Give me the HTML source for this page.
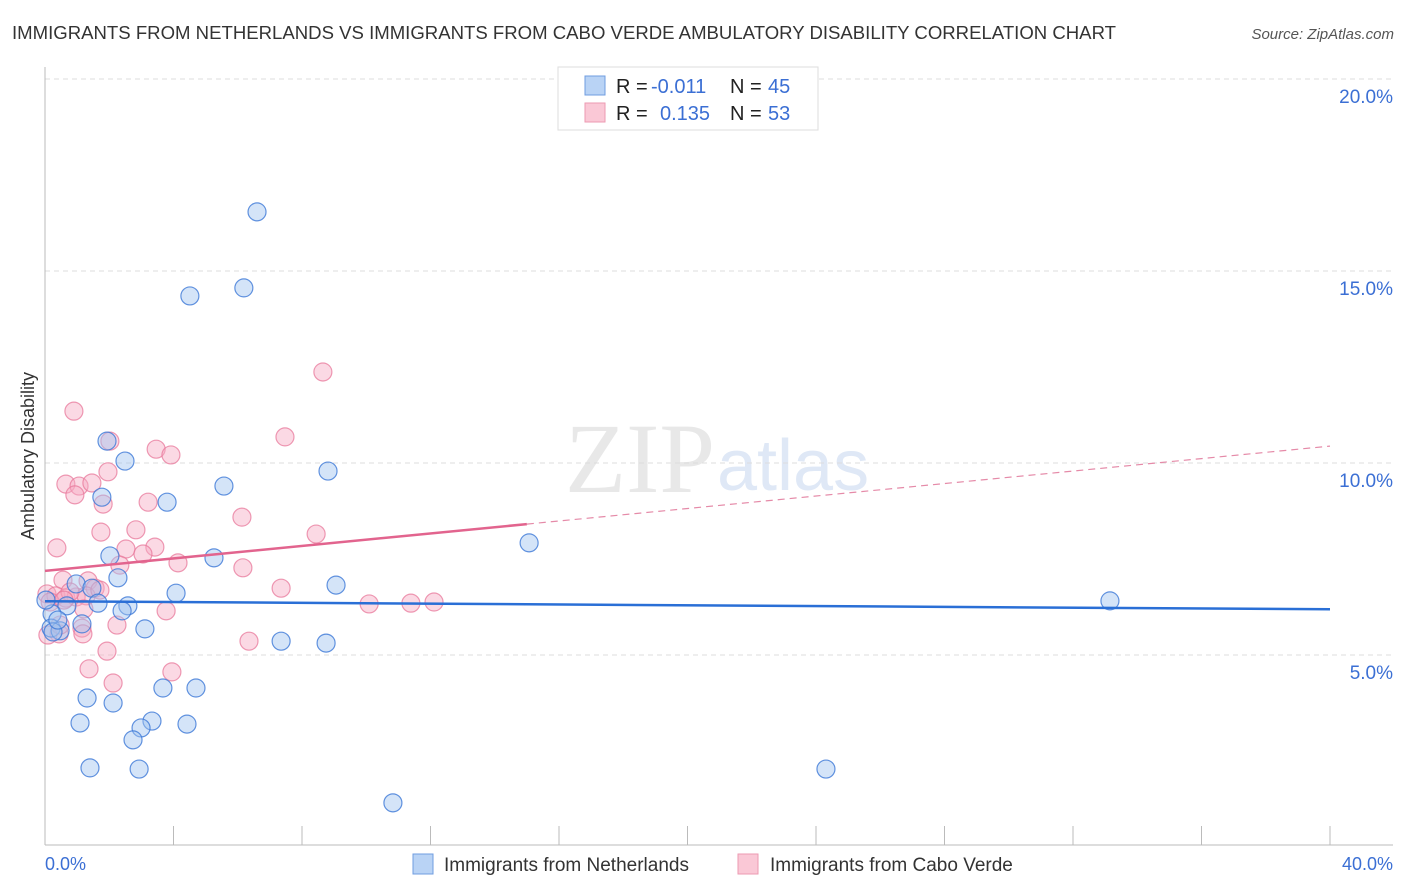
<!DOCTYPE html>
<html><head><meta charset="utf-8"><style>
body{margin:0;background:#fff;font-family:"Liberation Sans",sans-serif;}
svg{display:block}
</style></head><body>
<svg id="chart" width="1406" height="892" xmlns="http://www.w3.org/2000/svg">
<text x="12" y="39" font-size="18" fill="#333" textLength="1104" lengthAdjust="spacingAndGlyphs">IMMIGRANTS FROM NETHERLANDS VS IMMIGRANTS FROM CABO VERDE AMBULATORY DISABILITY CORRELATION CHART</text>
<text x="1394" y="39" font-size="15" fill="#555" font-style="italic" text-anchor="end">Source: ZipAtlas.com</text>
<text x="715" y="492" font-size="100" fill="#e8e8e8" text-anchor="end" font-family="Liberation Serif,serif">ZIP</text>
<text x="717" y="490" font-size="72" fill="#dfe8f6">atlas</text>
<g id="grid"></g>
<g id="axes"></g>
<g id="marks"></g>
<text transform="translate(34,456) rotate(-90)" font-size="18" fill="#333" text-anchor="middle">Ambulatory Disability</text>
<text x="45" y="870" font-size="18" fill="#3b6fd4">0.0%</text>
<text x="1393" y="870" font-size="18" fill="#3b6fd4" text-anchor="end">40.0%</text>
<g>
<rect x="558" y="67" width="260" height="63" fill="#fff" stroke="#ddd"/>
<rect x="585" y="76" width="20" height="19" fill="#b9d3f5" stroke="#6f9de0"/>
<rect x="585" y="103" width="20" height="19" fill="#fac8d6" stroke="#ec9ab2"/>
<text x="616" y="93" font-size="20" fill="#222">R = </text><text x="651" y="93" font-size="20" fill="#3b6fd4">-0.011</text>
<text x="730" y="93" font-size="20" fill="#222">N = </text><text x="768" y="93" font-size="20" fill="#3b6fd4">45</text>
<text x="616" y="120" font-size="20" fill="#222">R = </text><text x="660" y="120" font-size="20" fill="#3b6fd4">0.135</text>
<text x="730" y="120" font-size="20" fill="#222">N = </text><text x="768" y="120" font-size="20" fill="#3b6fd4">53</text>
</g>
<g>
<rect x="413" y="854" width="20" height="20" fill="#b9d3f5" stroke="#6f9de0"/>
<text x="444" y="871" font-size="19" fill="#333">Immigrants from Netherlands</text>
<rect x="738" y="854" width="20" height="20" fill="#fac8d6" stroke="#ec9ab2"/>
<text x="770" y="871" font-size="19" fill="#333">Immigrants from Cabo Verde</text>
</g>
</svg>
<script>
const yTicks=[5,10,15,20];
const yTickLabels=["5.0%","10.0%","15.0%","20.0%"];
const xTickVals=[0,4,8,12,16,20,24,28,32,36,40];
const blueX=[6.6,4.51,6.19,1.93,2.49,8.81,5.57,1.77,3.80,15.07,2.02,5.26,2.27,0.97,1.46,9.06,4.08,33.15,1.65,0.68,2.58,2.40,0.22,1.15,0.19,3.11,0.47,0.25,7.35,8.75,3.67,4.70,1.31,2.12,3.33,1.09,4.42,2.99,2.74,1.40,2.93,24.31,10.83,0.03,0.4];
const blueY=[16.54,14.35,14.56,10.57,10.05,9.79,9.40,9.11,8.98,7.92,7.58,7.53,7.01,6.85,6.74,6.82,6.61,6.41,6.35,6.28,6.28,6.15,6.07,5.81,5.70,5.68,5.63,5.60,5.36,5.31,4.14,4.14,3.88,3.75,3.28,3.23,3.20,3.10,2.79,2.06,2.03,2.03,1.15,6.43,5.91];
const pinkX=[8.65,0.90,2.02,7.47,3.46,3.92,1.96,0.65,1.06,1.46,0.93,3.21,1.81,6.13,1.74,2.83,8.44,0.37,2.52,3.42,3.05,4.14,2.33,6.16,0.56,1.34,1.56,7.35,0.06,0.34,0.65,0.97,1.28,0.16,0.78,10.09,11.39,12.11,3.77,1.21,2.24,1.15,1.18,0.44,0.09,6.35,1.93,1.37,3.95,2.12,0.47,1.71,0.59];
const pinkY=[12.37,11.35,10.57,10.68,10.36,10.21,9.77,9.45,9.40,9.48,9.17,8.98,8.93,8.59,8.20,8.26,8.15,7.79,7.76,7.81,7.63,7.40,7.34,7.27,6.95,6.93,6.74,6.74,6.59,6.54,6.48,6.51,6.54,6.38,6.64,6.33,6.35,6.38,6.15,6.20,5.78,5.70,5.55,5.55,5.52,5.36,5.10,4.64,4.56,4.27,5.78,6.69,6.43];
const blueTrend=[6.40,6.19];
const pinkTrend=[7.19,10.44];
const pinkSolidEnd=15.0;
const NS="http://www.w3.org/2000/svg";
const X0=45,X1=1330,YB=847,PX=38.4;
function sx(v){return X0+(v/40)*(X1-X0);}
function sy(v){return YB-v*PX;}
function mk(tag,attrs,parent){const e=document.createElementNS(NS,tag);for(const k in attrs)e.setAttribute(k,attrs[k]);parent.appendChild(e);return e;}
const grid=document.getElementById('grid'),axes=document.getElementById('axes'),marks=document.getElementById('marks');
yTicks.forEach((t,i)=>{
  const l=mk('line',{x1:X0,x2:1393,y1:sy(t),y2:sy(t),stroke:'#ddd','stroke-dasharray':'5,4'},grid);
  
  
  const tx=mk('text',{x:1393,y:sy(t)+24,'font-size':19,fill:'#3b6fd4','text-anchor':'end'},axes);
  tx.textContent=yTickLabels[i];
  
  
});
const ya=mk('line',{x1:X0,x2:X0,y1:67,y2:845,stroke:'#bbb'},axes);


const xa=mk('line',{x1:X0,x2:1393,y1:845,y2:845,stroke:'#bbb'},axes);


xTickVals.forEach(v=>{
  const t=mk('line',{x1:sx(v),x2:sx(v),y1:826,y2:845,stroke:'#bbb'},axes);
  
  
});
function dots(xs,ys,fill,stroke,name){
  xs.forEach((x,i)=>{
    const c=mk('circle',{cx:sx(x),cy:sy(ys[i]),r:9,fill:fill,stroke:stroke,'stroke-width':1.2},marks);
    
    
  });
}
dots(pinkX,pinkY,'rgba(246,170,195,0.45)','rgba(232,120,155,0.75)','cabo-verde-point');
dots(blueX,blueY,'rgba(160,195,240,0.45)','rgba(60,120,215,0.8)','netherlands-point');
function py(x){return pinkTrend[0]+(pinkTrend[1]-pinkTrend[0])*x/40;}
let l=mk('line',{x1:sx(0),y1:sy(blueTrend[0]),x2:sx(40),y2:sy(blueTrend[1]),stroke:'#2a6fd6','stroke-width':2.5},marks);


l=mk('line',{x1:sx(0),y1:sy(py(0)),x2:sx(pinkSolidEnd),y2:sy(py(pinkSolidEnd)),stroke:'#e2648e','stroke-width':2.5},marks);


l=mk('line',{x1:sx(pinkSolidEnd),y1:sy(py(pinkSolidEnd)),x2:sx(40),y2:sy(py(40)),stroke:'#e58aa8','stroke-width':1.2,'stroke-dasharray':'7,5'},marks);


</script>
</body></html>
